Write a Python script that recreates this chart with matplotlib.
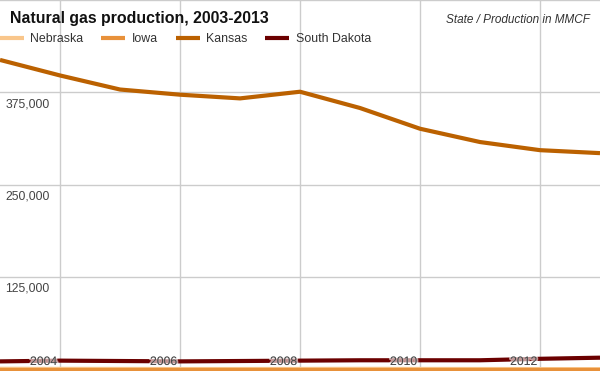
import matplotlib.pyplot as plt
import matplotlib.patheffects as pe

plt.rcParams['font.family'] = ['Liberation Sans', 'DejaVu Sans']

years = list(range(2003, 2014))
nebraska = [1500, 1400, 1300, 1200, 1200, 1300, 1400, 1300, 1200, 1100, 1000]
iowa = [0, 0, 0, 0, 0, 0, 0, 0, 0, 0, 0]
kansas = [419000, 398000, 379000, 372000, 367000, 376000, 354000, 326000, 308000, 297000, 293000]
south_dakota = [11500, 12500, 12000, 11500, 12000, 12500, 13000, 13000, 13000, 15000, 16500]

series_names = ["Nebraska", "Iowa", "Kansas", "South Dakota"]
colors = ["#f9c68b", "#e8913a", "#bb6100", "#6b0000"]
yticks = [125000, 250000, 375000]
xticks = [2004, 2006, 2008, 2010, 2012]

fig = plt.figure(figsize=(6, 3.71), dpi=100)
ax = fig.add_axes([0, 0, 1, 1])
ax.set_xlim(2003, 2013)
ax.set_ylim(-1500, 500000)

for y in yticks + [500000]:
    ax.axhline(y, color="#cccccc", lw=1, zorder=1)
for x in xticks:
    ax.axvline(x, color="#cccccc", lw=1, zorder=1)

handles = []
for vals, name, c in zip([nebraska, iowa, kansas, south_dakota], series_names, colors):
    h, = ax.plot(years, vals, color=c, lw=3, label=name, zorder=3,
                 solid_capstyle="butt", clip_on=False)
    handles.append(h)

ax.set_axis_off()

# axis labels sit inside the plot area
ytrans = ax.get_yaxis_transform()
for y in yticks:
    ax.annotate(f"{y:,}", xy=(0, y), xycoords=ytrans, xytext=(4, -4),
                textcoords="offset points", ha="left", va="top",
                fontsize=8.8, color="#444444", zorder=5)

xtrans = ax.get_xaxis_transform()
halo = [pe.withStroke(linewidth=2.5, foreground=(1, 1, 1, 0.6))]
for x in xticks:
    ax.annotate(str(x), xy=(x, 0), xycoords=xtrans, xytext=(-2, 6.5),
                textcoords="offset points", ha="right", va="center",
                fontsize=8.8, color="#444444", zorder=5, path_effects=halo)

fig.text(10 / 600, 1 - 18 / 371, "Natural gas production, 2003-2013",
         fontsize=11.4, fontweight="bold", color="#111111", va="center")
fig.text(590 / 600, 1 - 20 / 371, "State / Production in MMCF",
         fontsize=8.5, style="italic", color="#333333", ha="right", va="center")

leg = fig.legend(handles=handles, labels=series_names, loc="center left",
                 bbox_to_anchor=(0, 1 - 39 / 371), ncol=4, frameon=False,
                 fontsize=8.9, handlelength=1.95, handletextpad=0.5,
                 columnspacing=1.45, borderpad=0, borderaxespad=0)
for t in leg.get_texts():
    t.set_color("#333333")

fig.savefig("out.png", dpi=100)
